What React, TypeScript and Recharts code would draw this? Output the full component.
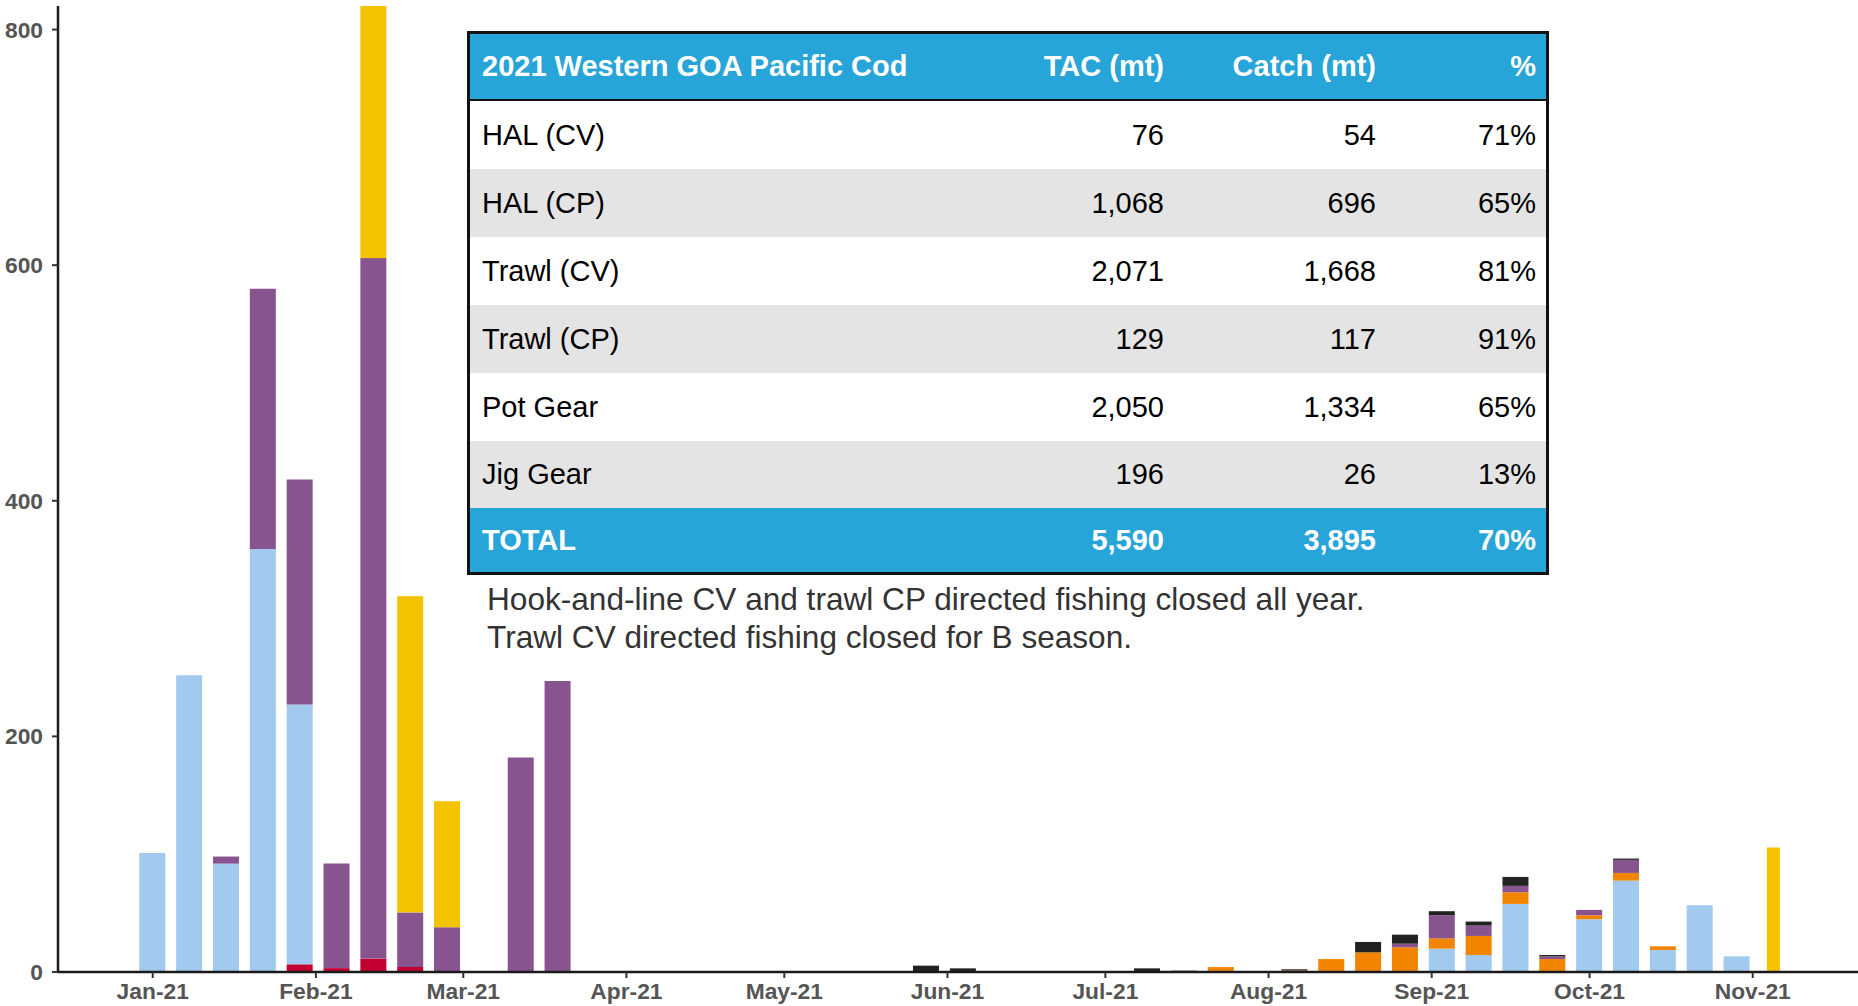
import React from 'react';
import { BarChart, Bar, XAxis, YAxis } from 'recharts';

// week-ending dates that have any catch (empty weeks are left out)
const weeks = [
  '2021-01-01', '2021-01-08', '2021-01-15', '2021-01-22', '2021-01-29',
  '2021-02-05', '2021-02-12', '2021-02-19', '2021-02-26', '2021-03-12',
  '2021-03-19', '2021-05-28', '2021-06-04', '2021-07-09', '2021-07-16',
  '2021-07-23', '2021-08-06', '2021-08-13', '2021-08-20', '2021-08-27',
  '2021-09-03', '2021-09-10', '2021-09-17', '2021-09-24', '2021-10-01',
  '2021-10-08', '2021-10-15', '2021-10-22', '2021-10-29', '2021-11-05',
];

// weekly catch (mt) by sector
const jigGear = [0, 0, 0, 0, 6.5, 3.3, 11.4, 4.3, 0, 0, 0, 0, 0, 0, 0, 0, 0, 0, 0, 0, 0, 0, 0, 0, 0, 0, 0, 0, 0, 0];
const potGear = [101, 252, 92, 359, 220.5, 0, 0, 0, 0, 0, 0, 0, 0, 0, 0, 0, 0, 0, 0, 0, 19.8, 14.4, 57.8, 0, 44.8, 77.6, 18.7, 56.7, 13.3, 0];
const trawlCP = [0, 0, 0, 0, 0, 0, 0, 0, 0, 0, 0, 0, 0, 0, 0, 4.2, 1.3, 11, 16.7, 21, 8.8, 16.2, 9.9, 11, 3.4, 6.5, 3.1, 0, 0, 0];
const trawlCV = [0, 0, 6, 221, 191, 88.7, 594.6, 46.3, 38, 182, 247, 0, 0, 0, 0, 0, 0, 0, 0, 3, 19.6, 8.8, 5.4, 2.3, 4.5, 11.1, 0, 0, 0, 0];
const halCV = [0, 0, 0, 0, 0, 0, 0, 0, 0, 0, 0, 5.4, 3.1, 3.1, 1.1, 0, 1.0, 0, 8.8, 7.7, 3.4, 3.4, 7.6, 1.1, 0, 1.1, 0, 0, 0, 0];
const halCP = [0, 0, 0, 0, 0, 0, 214, 268.4, 107, 0, 0, 0, 0, 0, 0, 0, 0, 0, 0, 0, 0, 0, 0, 0, 0, 0, 0, 0, 0, 105.7];

// last week is only partly in, drawn as a thinner bar
const partialWeeks = ['2021-11-05'];

const monthTicks = [
  '2021-01-01', '2021-02-01', '2021-03-01', '2021-04-01', '2021-05-01', '2021-06-01',
  '2021-07-01', '2021-08-01', '2021-09-01', '2021-10-01', '2021-11-01',
];
const monthLabels = ['Jan-21', 'Feb-21', 'Mar-21', 'Apr-21', 'May-21', 'Jun-21', 'Jul-21', 'Aug-21', 'Sep-21', 'Oct-21', 'Nov-21'];

const yTicks = [0, 200, 400, 600, 800];

// summary table
const tableHead = ['2021 Western GOA Pacific Cod', 'TAC (mt)', 'Catch (mt)', '%'];
const sectors = ['HAL (CV)', 'HAL (CP)', 'Trawl (CV)', 'Trawl (CP)', 'Pot Gear', 'Jig Gear'];
const tac = ['76', '1,068', '2,071', '129', '2,050', '196'];
const catchMt = ['54', '696', '1,668', '117', '1,334', '26'];
const pct = ['71%', '65%', '81%', '91%', '65%', '13%'];
const totalRow = ['TOTAL', '5,590', '3,895', '70%'];

const notes = [
  'Hook-and-line CV and trawl CP directed fishing closed all year.',
  'Trawl CV directed fishing closed for B season.',
];

const dayOf = (s: string) => {
  const [y, m, d] = s.split('-').map(Number);
  return (Date.UTC(y, m - 1, d) - Date.UTC(2021, 0, 1)) / 86400000;
};

const data = weeks.map((w, i) => ({
  day: dayOf(w),
  partial: partialWeeks.includes(w),
  jig: jigGear[i],
  pot: potGear[i],
  trawlCP: trawlCP[i],
  trawlCV: trawlCV[i],
  halCV: halCV[i],
  halCP: halCP[i],
}));

const tickDays = monthTicks.map(dayOf);
const labelFor = (v: number) => monthLabels[tickDays.indexOf(v)] ?? '';

const FONT = 'Arial, "Liberation Sans", sans-serif';
const BLUE = '#27a4d8';

const PartialBar = (props: any) => {
  const { x, y, width, height, fill, payload } = props;
  if (!height || height <= 0) return null;
  const w = payload && payload.partial ? width / 2 : width;
  return <rect x={x + (width - w) / 2} y={y} width={w} height={height} fill={fill} />;
};

const cols = [430, 264, 212, 160];

function Row({ cells, bg, color, bold, height }: { cells: string[]; bg: string; color: string; bold?: boolean; height: number }) {
  return (
    <div style={{ display: 'flex', height, background: bg, color, fontWeight: bold ? 'bold' : 'normal', alignItems: 'center', paddingRight: 10 }}>
      {cells.map((c, i) => (
        <div key={i} style={{ width: cols[i], textAlign: i === 0 ? 'left' : 'right', paddingLeft: i === 0 ? 12 : 0, boxSizing: 'border-box', whiteSpace: 'nowrap' }}>
          {c}
        </div>
      ))}
    </div>
  );
}

export default function App() {
  const rowHeights = [68, 68, 68, 68, 68, 67];
  const tickStyle = { fill: '#555', fontSize: 22.8, fontWeight: 'bold', fontFamily: FONT };
  return (
    <div style={{ position: 'absolute', left: 0, top: 0, width: 1858, height: 1006, background: '#fff', overflow: 'hidden' }}>
      <BarChart width={1858} height={1006} data={data} margin={{ top: 6, right: 0, left: 0, bottom: 0 }} barSize={26}>
        <XAxis
          type="number"
          dataKey="day"
          domain={[-18, 324]}
          ticks={tickDays}
          tickFormatter={labelFor}
          height={34}
          tickSize={6}
          tickMargin={5}
          axisLine={{ stroke: '#1a1a1a', strokeWidth: 2.5 }}
          tickLine={{ stroke: '#333', strokeWidth: 2 }}
          tick={tickStyle}
        />
        <YAxis
          domain={[0, 820]}
          ticks={yTicks}
          width={58}
          tickSize={6}
          tickMargin={9}
          axisLine={{ stroke: '#1a1a1a', strokeWidth: 2.5 }}
          tickLine={{ stroke: '#333', strokeWidth: 2 }}
          tick={tickStyle}
        />
        <Bar dataKey="jig" name="Jig Gear" stackId="a" fill="#c20032" isAnimationActive={false} />
        <Bar dataKey="pot" name="Pot Gear" stackId="a" fill="#a2caef" isAnimationActive={false} />
        <Bar dataKey="trawlCP" name="Trawl (CP)" stackId="a" fill="#f28500" isAnimationActive={false} />
        <Bar dataKey="trawlCV" name="Trawl (CV)" stackId="a" fill="#87548f" isAnimationActive={false} />
        <Bar dataKey="halCV" name="HAL (CV)" stackId="a" fill="#222222" isAnimationActive={false} />
        <Bar dataKey="halCP" name="HAL (CP)" stackId="a" fill="#f3c300" shape={PartialBar} isAnimationActive={false} />
      </BarChart>

      <div style={{ position: 'absolute', left: 467, top: 31, width: 1082, height: 544, border: '3px solid #111', boxSizing: 'border-box', fontFamily: FONT, fontSize: 29, background: '#fff' }}>
        <Row cells={tableHead} bg={BLUE} color="#fff" bold height={65} />
        <div style={{ height: 2, background: '#111' }} />
        {sectors.map((s, i) => (
          <Row key={s} cells={[s, tac[i], catchMt[i], pct[i]]} bg={i % 2 === 1 ? '#e4e4e4' : '#fff'} color="#000" height={rowHeights[i]} />
        ))}
        <Row cells={totalRow} bg={BLUE} color="#fff" bold height={64} />
      </div>

      <div style={{ position: 'absolute', left: 487, top: 580, fontFamily: FONT, fontSize: 31.6, lineHeight: '38px', color: '#333', whiteSpace: 'nowrap' }}>
        {notes.map(n => (
          <div key={n}>{n}</div>
        ))}
      </div>
    </div>
  );
}
